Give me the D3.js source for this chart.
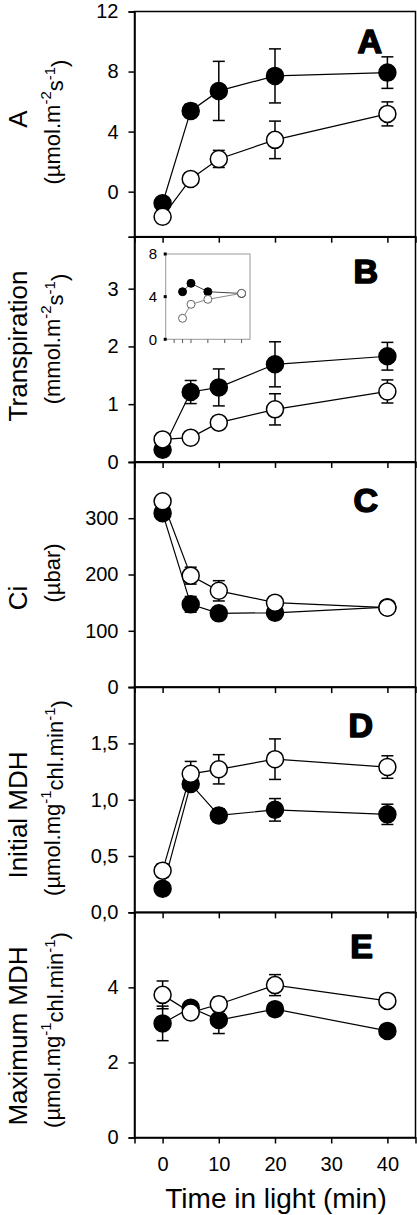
<!DOCTYPE html>
<html>
<head>
<meta charset="utf-8">
<script src="https://cdn.jsdelivr.net/npm/d3@7"></script>
<style>
  html, body { margin: 0; padding: 0; background: #fff; }
  svg { display: block; }
  text { font-family: "Liberation Sans", Arial, sans-serif; fill: #000; }
</style>
</head>
<body>
<svg id="chart" width="417" height="1215"></svg>
<script>
// ---------- DATA ----------
const times = [0, 5, 10, 20, 40];
const xTicks = [0, 10, 20, 30, 40];

// Panel A: net assimilation
const aFilled    = [-0.77, 5.38, 6.71, 7.71, 7.93];
const aFilledErr = [0, 0.45, 1.97, 1.8, 1.05];
const aOpen      = [-1.67, 0.85, 2.18, 3.45, 5.18];
const aOpenErr   = [0, 0, 0.57, 1.25, 0.8];
const aTicks     = [0, 4, 8, 12];

// Panel B: transpiration
const bFilled    = [0.21, 1.21, 1.29, 1.69, 1.83];
const bFilledErr = [0, 0.2, 0.32, 0.39, 0.24];
const bOpen      = [0.39, 0.42, 0.68, 0.91, 1.22];
const bOpenErr   = [0, 0, 0.06, 0.27, 0.2];
const bTicks     = [0, 1, 2, 3];

// Panel B inset
const insetTimes  = [5, 10, 20, 40];
const insetFilled = [4.46, 5.25, 4.46, 4.3];
const insetOpen   = [1.97, 3.28, 3.75, 4.31];
const insetYTicks = [0, 4, 8];
const insetXTicks = [0, 5, 10, 20, 30, 40];

// Panel C: Ci
const cFilled    = [309, 147, 131, 132, 142];
const cFilledErr = [0, 14, 0, 0, 0];
const cOpen      = [330, 198, 171, 150, 141];
const cOpenErr   = [0, 15, 18, 0, 0];
const cTicks     = [0, 100, 200, 300];

// Panel D: initial MDH
const dFilled    = [0.21, 1.14, 0.86, 0.91, 0.87];
const dFilledErr = [0, 0, 0.06, 0.1, 0.09];
const dOpen      = [0.37, 1.23, 1.27, 1.36, 1.29];
const dOpenErr   = [0.06, 0.11, 0.13, 0.18, 0.1];
const dTicks     = [0, 0.5, 1.0, 1.5];

// Panel E: maximum MDH
const eFilled    = [3.04, 3.46, 3.13, 3.42, 2.84];
const eFilledErr = [0.46, 0.15, 0.36, 0.1, 0];
const eOpen      = [3.80, 3.33, 3.55, 4.06, 3.64];
const eOpenErr   = [0.37, 0, 0.19, 0.28, 0];
const eTicks     = [0, 2, 4];

// ---------- LAYOUT ----------
const svg = d3.select("#chart");
const left = 134.5, right = 415.5;
const top0 = 11.5, panelH = 225.2;
const x = d3.scaleLinear().domain([-5, 45]).range([left, right]);
const commaFmt = d3.formatLocale({decimal: ",", thousands: ".", grouping: [3], currency: ["", ""]}).format(".1f");

const panels = [
  {letter: "A", domain: [-3, 12], ticks: aTicks, fmt: d3.format("d"),
   filled: aFilled, filledErr: aFilledErr, open: aOpen, openErr: aOpenErr,
   title: "A", titleY: 119, sub: [["(µmol.m"], ["-2", 1], ["s"], ["-1", 1], [")"]], subY: 122,
   letterX: 382, letterDy: 41},
  {letter: "B", domain: [0, 3.9], ticks: bTicks, fmt: d3.format("d"),
   filled: bFilled, filledErr: bFilledErr, open: bOpen, openErr: bOpenErr,
   title: "Transpiration", titleY: 346, sub: [["(mmol.m"], ["-2", 1], ["s"], ["-1", 1], [")"]], subY: 339,
   letterX: 378, letterDy: 46},
  {letter: "C", domain: [0, 400], ticks: cTicks, fmt: d3.format("d"),
   filled: cFilled, filledErr: cFilledErr, open: cOpen, openErr: cOpenErr,
   title: "Ci", titleY: 598, sub: [["(µbar)"]], subY: 573,
   letterX: 378, letterDy: 50},
  {letter: "D", domain: [0, 2], ticks: dTicks, fmt: commaFmt,
   filled: dFilled, filledErr: dFilledErr, open: dOpen, openErr: dOpenErr,
   title: "Initial MDH", titleY: 815, sub: [["(µmol.mg"], ["-1", 1], ["chl.min"], ["-1", 1], [")"]], subY: 798,
   letterX: 373, letterDy: 50},
  {letter: "E", domain: [0, 6], ticks: eTicks, fmt: d3.format("d"),
   filled: eFilled, filledErr: eFilledErr, open: eOpen, openErr: eOpenErr,
   title: "Maximum MDH", titleY: 1036, sub: [["(µmol.mg"], ["-1", 1], ["chl.min"], ["-1", 1], [")"]], subY: 1030,
   letterX: 373, letterDy: 46}
];

const R = 8.5, capW = 6;

panels.forEach((p, i) => {
  const yTop = top0 + i * panelH, yBot = yTop + panelH;
  const y = d3.scaleLinear().domain(p.domain).range([yBot, yTop]);
  const g = svg.append("g");

  // frame
  g.append("rect").attr("x", left).attr("y", yTop).attr("width", right - left).attr("height", panelH)
    .attr("fill", "none").attr("stroke", "#000").attr("stroke-width", 1.5);

  // y axis
  const ya = g.append("g").attr("transform", `translate(${left},0)`)
    .call(d3.axisLeft(y).tickValues(p.ticks).tickSize(6).tickPadding(10).tickFormat(p.fmt));
  ya.select(".domain").attr("stroke-width", 1.5);
  ya.selectAll(".tick line").attr("stroke-width", 1.5);
  ya.selectAll(".tick text").style("font-size", "20px").style("font-family", "Liberation Sans, Arial, sans-serif");

  // x axis
  const xa = g.append("g").attr("transform", `translate(0,${yBot})`)
    .call(d3.axisBottom(x).tickValues(xTicks).tickSize(6).tickPadding(13).tickFormat(i === 4 ? d3.format("d") : () => ""));
  xa.select(".domain").attr("stroke-width", 1.5);
  xa.selectAll(".tick line").attr("stroke-width", 1.5);
  xa.selectAll(".tick text").style("font-size", "20px").style("font-family", "Liberation Sans, Arial, sans-serif");

  // series
  const series = [
    {vals: p.filled, err: p.filledErr, fill: "#000"},
    {vals: p.open, err: p.openErr, fill: "#fff"}
  ];
  series.forEach(s => {
    const pts = times.map((t, k) => ({t, v: s.vals[k], e: s.err[k]}));
    g.append("path").datum(pts)
      .attr("d", d3.line().x(d => x(d.t)).y(d => y(d.v)))
      .attr("fill", "none").attr("stroke", "#000").attr("stroke-width", 1.2);
    const eb = g.selectAll(null).data(pts.filter(d => d.e > 0)).enter().append("g");
    eb.append("line").attr("x1", d => x(d.t)).attr("x2", d => x(d.t))
      .attr("y1", d => y(d.v + d.e)).attr("y2", d => y(d.v - d.e))
      .attr("stroke", "#000").attr("stroke-width", 1.5);
    [1, -1].forEach(sg => {
      eb.append("line").attr("x1", d => x(d.t) - capW).attr("x2", d => x(d.t) + capW)
        .attr("y1", d => y(d.v + sg * d.e)).attr("y2", d => y(d.v + sg * d.e))
        .attr("stroke", "#000").attr("stroke-width", 1.5);
    });
    g.selectAll(null).data(pts).enter().append("circle")
      .attr("cx", d => x(d.t)).attr("cy", d => y(d.v)).attr("r", R)
      .attr("fill", s.fill).attr("stroke", "#000").attr("stroke-width", 1.5);
  });

  // panel letter
  g.append("text").attr("x", p.letterX).attr("y", yTop + p.letterDy)
    .attr("text-anchor", "end").style("font-size", "34px").style("font-weight", "bold")
    .attr("stroke", "#000").attr("stroke-width", 1.6).attr("stroke-linejoin", "round").text(p.letter);

  // y titles
  g.append("text").attr("transform", `translate(27,${p.titleY}) rotate(-90)`)
    .attr("text-anchor", "middle").style("font-size", "26px").text(p.title);
  const st = g.append("text").attr("transform", `translate(59.5,${p.subY}) rotate(-90)`)
    .attr("text-anchor", "middle").style("font-size", "22px");
  let raised = false;
  p.sub.forEach(([txt, sup]) => {
    const ts = st.append("tspan").text(txt);
    if (sup && !raised) { ts.attr("dy", "-0.55em").style("font-size", "15px"); raised = true; }
    else if (!sup && raised) { ts.attr("dy", "0.55em"); raised = false; }
    else if (sup) { ts.style("font-size", "15px"); }
  });

  // inset in panel B
  if (i === 1) {
    const ix = d3.scaleLinear().domain([-5, 45]).range([165.7, 250]);
    const iy = d3.scaleLinear().domain([0, 8]).range([339.3, 254]);
    const ig = g.append("g");
    ig.append("rect").attr("x", 165.7).attr("y", 254).attr("width", 250 - 165.7).attr("height", 339.3 - 254)
      .attr("fill", "#fff").attr("stroke", "#999").attr("stroke-width", 1);
    ig.selectAll(null).data(insetXTicks).enter().append("line")
      .attr("x1", d => ix(d)).attr("x2", d => ix(d)).attr("y1", 339.3).attr("y2", 343)
      .attr("stroke", "#555").attr("stroke-width", 1);
    ig.selectAll(null).data(insetYTicks).enter().append("rect")
      .attr("x", 163.7).attr("y", d => iy(d) - 1.5).attr("width", 3).attr("height", 3).attr("fill", "#000");
    ig.selectAll(null).data(insetYTicks).enter().append("text")
      .attr("x", 157).attr("y", d => iy(d)).attr("dy", "0.36em").attr("text-anchor", "end")
      .style("font-size", "15px").text(d => d);
    [[insetFilled, "#000", "#000", "#444"], [insetOpen, "#fff", "#666", "#888"]].forEach(([vals, fill, stroke, lc]) => {
      const pts = insetTimes.map((t, k) => ({t, v: vals[k]}));
      ig.append("path").datum(pts).attr("d", d3.line().x(d => ix(d.t)).y(d => iy(d.v)))
        .attr("fill", "none").attr("stroke", lc).attr("stroke-width", 1);
      ig.selectAll(null).data(pts).enter().append("circle")
        .attr("cx", d => ix(d.t)).attr("cy", d => iy(d.v)).attr("r", 4)
        .attr("fill", fill).attr("stroke", stroke).attr("stroke-width", 1);
    });
  }
});

// x title
svg.append("text").attr("x", 276).attr("y", 1208).attr("text-anchor", "middle")
  .style("font-size", "28px").text("Time in light (min)");
</script>
</body>
</html>
